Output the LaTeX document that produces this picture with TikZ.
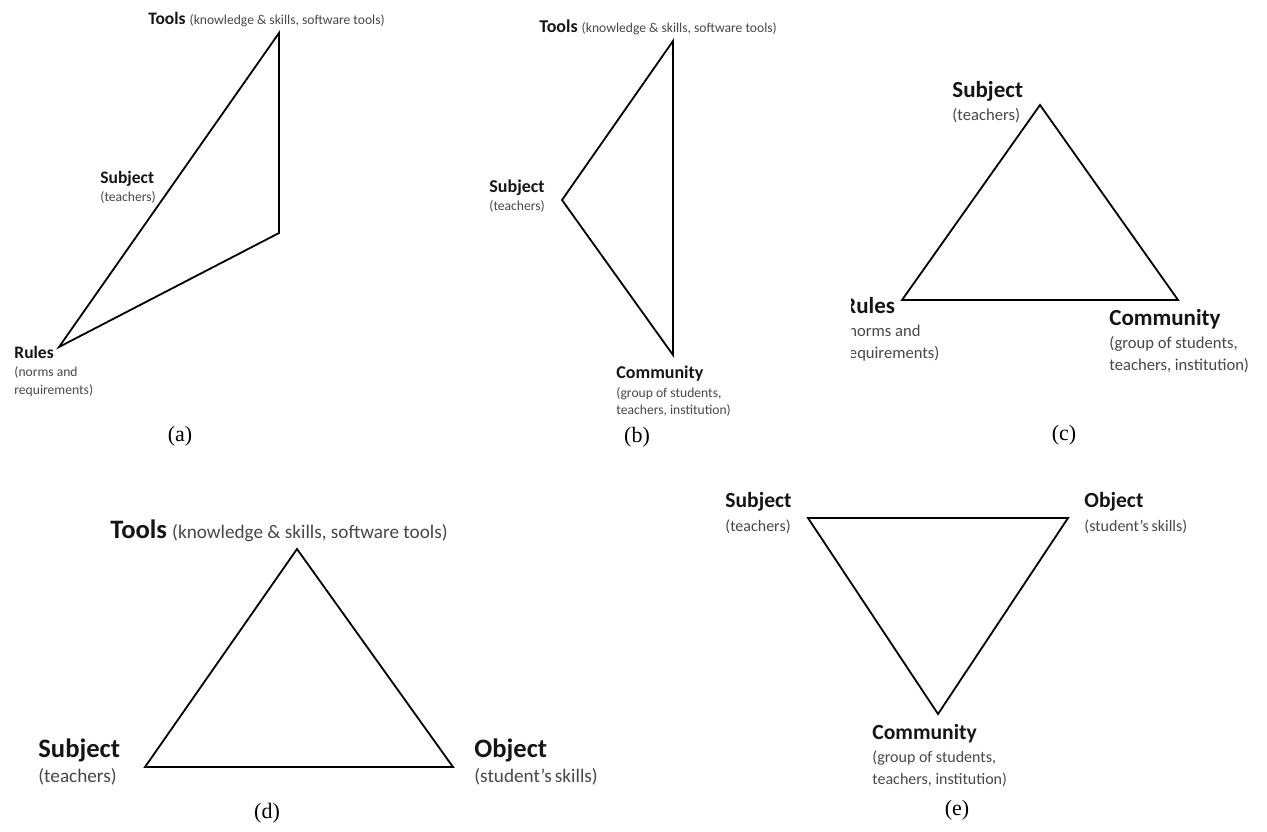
\documentclass[tikz,border=0pt]{standalone}
\usepackage{fontspec}
\setmainfont{Carlito}
\newfontfamily\capfont{Liberation Serif}
\definecolor{subgray}{HTML}{474747}
\definecolor{labblack}{HTML}{151515}
\tikzset{
  edge/.style={line width=0.9pt, line join=miter},
  lab/.style={anchor=base west, inner sep=0pt, text=labblack, font=\bfseries\fontsize{#1}{#1}\selectfont},
  sub/.style={anchor=base west, inner sep=0pt, text=subgray, font=\fontsize{#1}{#1}\selectfont},
  capt/.style={inner sep=0pt, font=\capfont\fontsize{11}{13}\selectfont},
}
\begin{document}
\begin{tikzpicture}[x=0.5pt,y=-0.5pt]
\useasboundingbox (0,0) rectangle (1267,831);
% (a)
\coordinate (toolsA) at (279,33);
\coordinate (cornerA) at (279,233);
\coordinate (rulesA) at (59,347);
\node (toolsAl) at (148,24) [lab=8.75] {Tools};
\node (toolsAs) at ([xshift=1.6pt]toolsAl.base east) [sub=6.8] {(knowledge \& skills, software tools)};
\node (subjAl) at (100,183) [lab=8.75] {Subject};
\node (subjAs) at (100,201) [sub=6.8] {(teachers)};
\node (rulesAl) at (14,358) [lab=8.75] {Rules};
\node (rulesAs) at (14,376) [sub=6.8] {(norms and};
\node (rulesAt) at (14,394) [sub=6.8] {requirements)};
\node (capA) at (180,436) [capt] {(a)};
\draw[edge] (toolsA) -- (cornerA) -- (rulesA) -- cycle;
%
% (b)
\coordinate (toolsB) at (673,41);
\coordinate (subjB) at (562,200);
\coordinate (commB) at (673,355);
\node (toolsBl) at (539,32) [lab=9] {Tools};
\node (toolsBs) at ([xshift=1.6pt]toolsBl.base east) [sub=6.8] {(knowledge \& skills, software tools)};
\node (subjBl) at (489,192) [lab=9] {Subject};
\node (subjBs) at (489,210) [sub=6.8] {(teachers)};
\node (commBl) at (616,378) [lab=9] {Community};
\node (commBs) at (616,397) [sub=6.8] {(group of students,};
\node (commBt) at (616,414) [sub=6.8] {teachers, institution)};
\node (capB) at (637,437) [capt] {(b)};
\draw[edge] (toolsB) -- (subjB) -- (commB) -- cycle;
%
% (c)
\coordinate (subjC) at (1040,105);
\coordinate (rulesC) at (902,300);
\coordinate (commC) at (1178,300);
\node (subjCl) at (952,97) [lab=11.5] {Subject};
\node (subjCs) at (952,120) [sub=8.3] {(teachers)};
\begin{scope}
\clip (851,280) rectangle (1000,380);
\node (rulesCl) at (843,313) [lab=11.5] {Rules};
\node (rulesCs) at (843,336) [sub=8.3] {(norms and};
\node (rulesCt) at (843,358) [sub=8.3] {requirements)};
\end{scope}
\node (commCl) at (1109,325) [lab=11.5] {Community};
\node (commCs) at (1109,348) [sub=8.3] {(group of students,};
\node (commCt) at (1109,370) [sub=8.3] {teachers, institution)};
\node (capC) at (1064,435) [capt] {(c)};
\draw[edge] (subjC) -- (rulesC) -- (commC) -- cycle;
%
% (d)
\coordinate (toolsD) at (297,549);
\coordinate (subjD) at (145,767);
\coordinate (objD) at (453,767);
\node (toolsDl) at (110,538) [lab=13.3] {Tools};
\node (toolsDs) at ([xshift=2.2pt]toolsDl.base east) [sub=9.6] {(knowledge \& skills, software tools)};
\node (subjDl) at (38,757) [lab=13.3] {Subject};
\node (subjDs) at (38,782) [sub=9.6] {(teachers)};
\node (objDl) at (474,757) [lab=13.3] {Object};
\node (objDs) at (474,782) [sub=9.6] {(student’s\,skills)};
\node (capD) at (267,813) [capt] {(d)};
\draw[edge] (toolsD) -- (subjD) -- (objD) -- cycle;
%
% (e)
\coordinate (subjE) at (808,518);
\coordinate (objE) at (1068,518);
\coordinate (commE) at (938,714);
\node (subjEl) at (725,507) [lab=10.8] {Subject};
\node (subjEs) at (725,531) [sub=8] {(teachers)};
\node (objEl) at (1084,507) [lab=10.8] {Object};
\node (objEs) at (1084,531) [sub=8] {(student’s\,skills)};
\node (commEl) at (872,739) [lab=10.8] {Community};
\node (commEs) at (872,762) [sub=8] {(group of students,};
\node (commEt) at (872,784) [sub=8] {teachers, institution)};
\node (capE) at (957,810) [capt] {(e)};
\draw[edge] (subjE) -- (objE) -- (commE) -- cycle;
\end{tikzpicture}
\end{document}
